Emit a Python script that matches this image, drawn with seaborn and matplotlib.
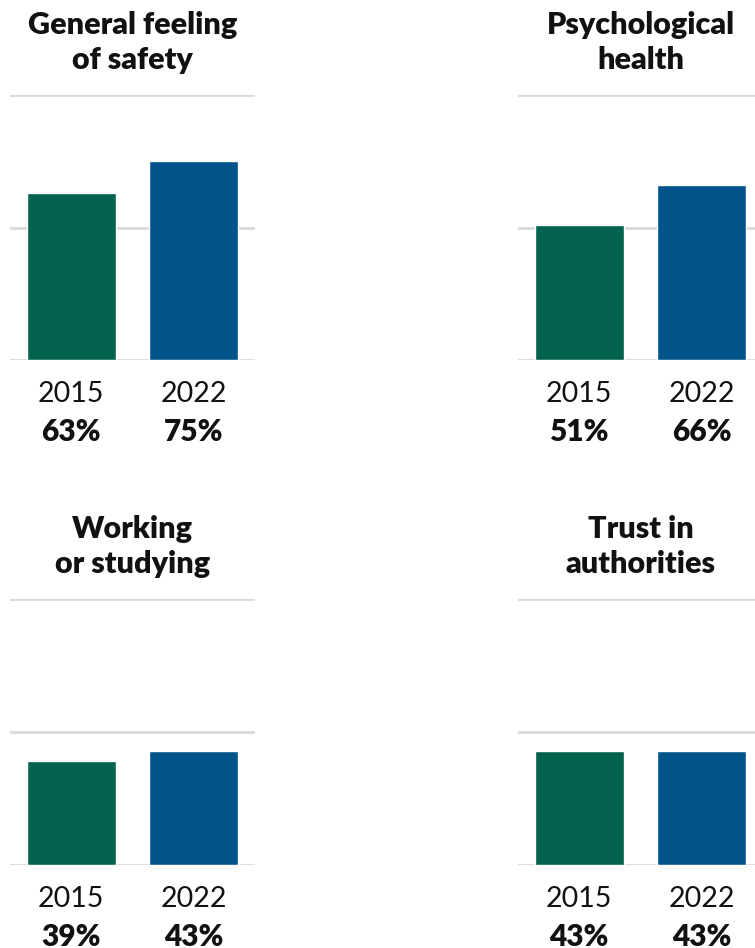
import matplotlib
matplotlib.use("Agg")
import matplotlib.pyplot as plt
import seaborn as sns
import pandas as pd

sns.set_theme(style="white")
plt.rcParams["font.family"] = ["Lato", "DejaVu Sans"]

# Share of respondents reporting a positive outcome, by survey year
years = ["2015", "2022"]
titles = ["General feeling\nof safety", "Psychological\nhealth",
          "Working\nor studying", "Trust in\nauthorities"]
values_2015 = [63, 51, 39, 43]
values_2022 = [75, 66, 43, 43]
y_ticks = [0, 50, 100]

palette = {"2015": "#03634F", "2022": "#02548A"}
grid_color = "#D9D9D9"

W, H = 755, 948
fig = plt.figure(figsize=(W / 100, H / 100), dpi=100)

# panel boxes in pixels: left, top(of 100%), width, height
boxes = [
    (10, 95, 245, 265),
    (518, 95, 245, 265),
    (10, 599, 245, 266),
    (518, 599, 245, 266),
]

for i, (title, box) in enumerate(zip(titles, boxes)):
    left, top, w, h = box
    ax = fig.add_axes([left / W, 1 - (top + h) / H, w / W, h / H])
    df = pd.DataFrame({"year": years, "value": [values_2015[i], values_2022[i]]})
    sns.barplot(data=df, x="year", y="value", hue="year", order=years,
                palette=palette, width=0.727, saturation=1, legend=False,
                ax=ax, zorder=3)
    ax.set_xlim(-0.5, 1.5)
    ax.set_ylim(0, 100)
    for t in y_ticks:
        ax.axhline(t, color=grid_color, lw=2.0, zorder=1)
    for s in ax.spines.values():
        s.set_visible(False)
    ax.set_yticks([])
    ax.set_xlabel("")
    ax.set_ylabel("")
    ax.set_xticks(range(len(years)))
    ax.set_xticklabels(years, fontsize=20.5, color="#111111")
    ax.tick_params(axis="x", length=0, pad=15)
    for j, v in enumerate(df["value"]):
        ax.annotate(f"{v}%", xy=(j, 0), xycoords="data",
                    xytext=(0, -72), textcoords="offset pixels",
                    ha="center", va="center", fontsize=21.5,
                    fontweight="heavy", color="#111111")
    ax.set_title(title, fontsize=22, fontweight="heavy", color="#111111",
                 pad=19, linespacing=1.3)

fig.savefig("out.png", dpi=100, facecolor="white")
